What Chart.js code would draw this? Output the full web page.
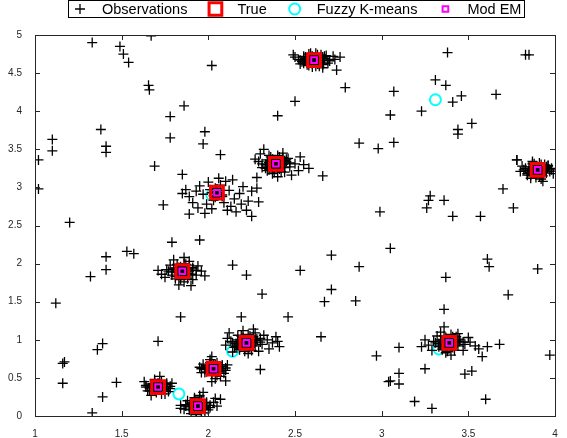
<!DOCTYPE html>
<html>
<head>
<meta charset="utf-8">
<script src="https://cdn.jsdelivr.net/npm/chart.js@4"></script>
<style>
  html, body { margin: 0; padding: 0; background: #fff; }
  #wrap { width: 567px; height: 438px; }
</style>
</head>
<body>
<div id="wrap"><canvas id="chart"></canvas></div>
<script>
// tick values
const xTicks = [1, 1.5, 2, 2.5, 3, 3.5, 4];
const yTicks = [0, 0.5, 1, 1.5, 2, 2.5, 3, 3.5, 4, 4.5, 5];

// scattered observations
const outliers = [
  [1.33,4.90],[1.49,4.85],[1.51,4.75],[1.54,4.64],[1.67,4.99],[1.655,4.34],[1.66,4.28],
  [1.38,3.76],[1.41,3.54],[1.41,3.46],[1.10,3.63],[1.10,3.48],[1.02,3.36],[1.78,3.93],
  [1.78,3.65],[1.86,4.07],[1.69,3.28],[2.02,4.60],[1.98,3.73],[1.97,3.57],[2.07,3.43],
  [1.85,3.17],[1.74,2.77],[1.89,2.65],[1.79,2.28],[1.95,2.31],[1.57,2.13],[1.53,2.16],
  [2.14,1.98],[2.22,1.85],[2.53,1.91],[2.66,3.15],[2.29,2.81],[2.28,2.99],[2.25,2.62],
  [3.38,4.77],[3.31,4.41],[3.37,4.34],[2.79,4.31],[3.07,4.26],[3.41,4.12],[3.46,4.20],
  [3.66,4.22],[2.50,4.13],[2.40,3.94],[3.05,3.95],[3.23,4.00],[3.52,3.84],[3.44,3.76],
  [3.44,3.70],[2.87,3.58],[2.98,3.51],[3.07,3.59],[3.83,4.74],[3.85,4.74],[3.78,3.36],
  [3.70,2.98],[3.76,2.73],[3.57,2.62],[3.41,2.62],[3.36,2.83],[3.28,2.89],[3.27,2.83],
  [3.26,2.73],[2.99,2.68],[2.71,2.11],[2.87,1.96],[3.05,2.20],[2.71,1.66],[2.67,1.50],
  [2.85,1.51],[3.37,1.82],[3.61,2.06],[3.62,1.96],[3.90,1.93],[3.73,1.59],[3.36,1.40],
  [2.31,1.60],[2.46,1.30],[2.65,1.04],[2.97,0.79],[3.04,0.45],[2.41,0.91],[2.30,0.61],
  [2.19,1.30],[3.10,0.90],[3.25,0.62],[3.10,0.56],[3.05,0.46],[3.10,0.42],[3.19,0.19],
  [3.29,0.10],[3.60,0.22],[3.48,0.55],[3.52,0.59],[3.68,0.94],[3.61,0.91],[3.58,0.78],
  [3.97,0.80],[3.36,1.17],[1.02,2.98],[1.20,2.54],[1.41,2.09],[1.41,1.92],[1.32,1.83],
  [1.12,1.48],[1.39,0.95],[1.36,0.87],[1.17,0.71],[1.16,0.69],[1.16,0.43],[1.47,0.44],
  [1.39,0.25],[1.33,0.04],[1.84,1.30],[1.71,0.98],[2.02,0.45],[2.10,0.46],[2.04,0.23],
  [1.84,0.10]
];

// dense clusters around each true centre
const cluster1 = [
  [2.61,4.67],[2.58,4.70],[2.64,4.65],[2.55,4.72],[2.67,4.69],[2.60,4.62],[2.63,4.74],[2.57,4.64],
  [2.66,4.61],[2.52,4.68],[2.70,4.66],[2.59,4.76],[2.62,4.59],[2.54,4.65],[2.68,4.73],[2.50,4.71],
  [2.73,4.68],[2.56,4.69],[2.65,4.70],[2.61,4.64],[2.49,4.74],[2.74,4.54],[2.72,4.72],[2.58,4.60],
  [2.63,4.68],[2.53,4.62],[2.69,4.63],[2.60,4.72],[2.66,4.57],[2.76,4.71],
  [2.60,4.68],[2.62,4.66],[2.59,4.65],[2.63,4.69],[2.61,4.71],[2.58,4.67],[2.64,4.64],[2.60,4.63],
  [2.62,4.70],[2.57,4.69],[2.65,4.67],[2.61,4.66],[2.59,4.72],[2.63,4.62],[2.56,4.66],[2.66,4.71],
  [2.56,4.71],[2.66,4.63],[2.55,4.63],[2.67,4.72],[2.58,4.75],[2.64,4.59],[2.53,4.67],[2.69,4.67],
  [2.60,4.58],[2.62,4.76],[2.57,4.61],[2.65,4.74]
];
const cluster2 = [
  [3.90,3.23],[3.87,3.27],[3.93,3.20],[3.85,3.22],[3.95,3.26],[3.89,3.17],[3.92,3.30],[3.83,3.25],
  [3.97,3.21],[3.88,3.31],[3.91,3.14],[3.86,3.19],[3.94,3.24],[3.81,3.28],[3.99,3.18],[3.89,3.26],
  [3.84,3.16],[3.96,3.29],[3.92,3.11],[3.80,3.21],[3.98,3.23],[3.87,3.34],[3.78,3.36],[3.93,3.08],
  [3.86,3.12],[3.91,3.22],
  [3.89,3.24],[3.91,3.22],[3.88,3.21],[3.92,3.25],[3.90,3.27],[3.87,3.23],[3.93,3.19],[3.89,3.19],
  [3.91,3.26],[3.86,3.25],[3.94,3.22],[3.90,3.21],[3.88,3.28],[3.92,3.17],[3.85,3.20],[3.95,3.27],
  [3.85,3.27],[3.95,3.19],[3.84,3.18],[3.96,3.28],[3.87,3.31],[3.93,3.15],[3.82,3.23],[3.98,3.25],
  [3.89,3.13],[3.91,3.32],[3.86,3.16],[3.94,3.30]
];
const cluster3 = [
  [2.39,3.31],[2.36,3.35],[2.42,3.28],[2.33,3.30],[2.45,3.34],[2.38,3.24],[2.41,3.40],[2.31,3.26],
  [2.47,3.27],[2.35,3.42],[2.44,3.20],[2.29,3.34],[2.50,3.31],[2.37,3.18],[2.43,3.45],[2.27,3.37],
  [2.52,3.22],[2.34,3.22],[2.46,3.38],[2.40,3.14],[2.30,3.44],[2.55,3.30],[2.48,3.16],[2.32,3.50],
  [2.58,3.25],[2.40,3.33],[2.36,3.28],[2.44,3.31],[2.28,3.13],[2.53,3.40],
  [2.38,3.32],[2.40,3.30],[2.37,3.28],[2.41,3.34],[2.39,3.36],[2.36,3.31],[2.42,3.26],[2.38,3.26],
  [2.40,3.35],[2.35,3.33],[2.43,3.30],[2.39,3.29],[2.37,3.37],[2.41,3.24],[2.34,3.28],[2.44,3.35],
  [2.34,3.36],[2.44,3.26],[2.33,3.25],[2.45,3.37],[2.36,3.40],[2.42,3.21],[2.31,3.31],[2.47,3.32],
  [2.38,3.20],[2.40,3.42],[2.35,3.23],[2.43,3.39]
];
const cluster4 = [
  [2.05,2.93],[2.01,2.97],[2.08,2.88],[1.97,2.91],[2.12,2.96],[2.03,2.83],[2.07,3.03],[1.93,2.95],
  [2.15,2.85],[1.99,2.78],[2.10,3.08],[1.89,2.88],[2.18,2.92],[2.02,2.72],[2.13,2.75],[1.95,3.02],
  [2.20,3.01],[1.91,2.80],[2.06,3.12],[2.23,2.82],[1.87,2.97],[2.16,2.68],[1.98,2.66],[2.09,2.80],
  [2.25,2.95],[1.85,2.92],[2.11,2.70],[2.00,3.07],[2.19,2.78],[1.94,2.73],[2.14,3.10],[2.04,2.99],
  [2.22,2.70],
  [2.04,2.94],[2.06,2.91],[2.03,2.89],[2.07,2.96],[2.05,2.98],[2.02,2.93],[2.08,2.90],[2.04,2.87]
];
const cluster5 = [
  [1.85,1.90],[1.82,1.94],[1.88,1.87],[1.79,1.89],[1.91,1.93],[1.84,1.83],[1.87,1.99],[1.76,1.92],
  [1.93,1.85],[1.81,1.80],[1.89,2.03],[1.73,1.86],[1.96,1.90],[1.86,1.76],[1.78,1.98],[1.94,1.97],
  [1.80,2.05],[1.91,1.79],[1.71,1.91],[1.98,1.84],[1.83,1.72],[1.88,1.93],[1.84,1.96],[1.75,1.82],
  [1.90,1.71],[1.86,2.08],
  [1.84,1.91],[1.86,1.89],[1.83,1.88],[1.87,1.92],[1.85,1.94],[1.82,1.90],[1.88,1.86],[1.84,1.86],
  [1.86,1.93],[1.81,1.92],[1.89,1.90],[1.85,1.88],[1.83,1.95],[1.87,1.85],
  [1.80,1.94],[1.90,1.86],[1.79,1.85],[1.91,1.95],[1.82,1.99],[1.88,1.80],[1.77,1.90],[1.93,1.91],
  [1.84,1.79],[1.86,2.00],[1.81,1.83],[1.89,1.98]
];
const cluster6 = [
  [2.22,0.96],[2.19,1.00],[2.25,0.93],[2.16,0.95],[2.28,0.99],[2.21,0.89],[2.24,1.05],[2.13,0.98],
  [2.31,0.94],[2.18,0.87],[2.27,1.09],[2.11,1.02],[2.34,1.00],[2.20,1.12],[2.29,0.85],[2.15,0.90],
  [2.37,0.96],[2.23,0.82],[2.10,0.93],[2.32,1.06],[2.17,1.06],[2.40,0.98],[2.26,1.14],[2.14,0.84],
  [2.35,0.88],[2.22,0.99],[2.19,0.93],[2.30,1.02],[2.12,1.09],[2.39,1.04],
  [2.21,0.97],[2.23,0.95],[2.20,0.94],[2.24,0.98],[2.22,1.01],[2.19,0.96],[2.25,0.92],[2.21,0.91],
  [2.23,1.00],[2.18,0.98],[2.26,0.96],[2.22,0.94],[2.20,1.03],[2.24,0.90],[2.17,0.93],[2.27,1.00],
  [2.17,1.00],[2.27,0.92],[2.16,0.91],[2.28,1.01],[2.19,1.05],[2.25,0.86],[2.14,0.96],[2.30,0.97],
  [2.21,0.85],[2.23,1.07],[2.18,0.89],[2.26,1.04]
];
const cluster7 = [
  [2.03,0.62],[2.00,0.66],[2.06,0.59],[1.98,0.61],[2.08,0.65],[2.02,0.55],[2.05,0.70],[1.96,0.57],
  [2.10,0.60],[2.01,0.74],[2.07,0.52],[1.97,0.68],[2.11,0.67],[2.04,0.49],[1.99,0.58],[2.06,0.64],
  [2.02,0.78],[2.09,0.56],[1.95,0.64],[2.04,0.68],
  [2.02,0.63],[2.04,0.61],[2.01,0.60],[2.05,0.64],[2.03,0.67],[2.00,0.62],[2.06,0.58],[2.02,0.57],
  [2.04,0.66],[1.99,0.64],[2.07,0.62],[2.03,0.60],
  [1.99,0.66],[2.07,0.58],[1.98,0.57],[2.08,0.67],[2.01,0.70],[2.05,0.53],[1.96,0.62],[2.10,0.63]
];
const cluster8 = [
  [1.71,0.38],[1.68,0.42],[1.74,0.35],[1.66,0.37],[1.76,0.41],[1.70,0.31],[1.73,0.46],[1.64,0.40],
  [1.78,0.36],[1.69,0.48],[1.75,0.29],[1.65,0.33],[1.79,0.43],[1.72,0.52],[1.67,0.27],[1.71,0.41],
  [1.74,0.39],[1.63,0.45],[1.77,0.32],[1.70,0.35],
  [1.70,0.39],[1.72,0.37],[1.69,0.36],[1.73,0.40],[1.71,0.43],[1.68,0.38],[1.74,0.34],[1.70,0.33],
  [1.72,0.42],[1.67,0.40],[1.75,0.38],[1.71,0.36],
  [1.67,0.42],[1.75,0.34],[1.66,0.33],[1.76,0.43],[1.69,0.46],[1.73,0.29],[1.64,0.38],[1.78,0.39]
];
const cluster9 = [
  [1.94,0.13],[1.91,0.17],[1.97,0.10],[1.89,0.12],[1.99,0.16],[1.93,0.06],[1.96,0.21],[1.87,0.15],
  [2.01,0.11],[1.92,0.24],[1.98,0.04],[1.86,0.09],[2.03,0.18],[1.95,0.27],[1.90,0.03],[2.05,0.13],
  [1.88,0.20],[1.94,0.16],[2.00,0.08],[1.84,0.14],[1.97,0.31],[2.07,0.22],
  [1.93,0.14],[1.95,0.12],[1.92,0.11],[1.96,0.15],[1.94,0.18],[1.91,0.13],[1.97,0.09],[1.93,0.08],
  [1.95,0.17],[1.90,0.15],[1.98,0.13],[1.94,0.11],[1.92,0.19],[1.96,0.07],
  [1.90,0.17],[1.98,0.09],[1.89,0.08],[1.99,0.18],[1.92,0.22],[1.96,0.04],[1.87,0.13],[2.01,0.14],
  [1.93,0.02],[1.95,0.25]
];
const cluster10 = [
  [3.39,0.96],[3.36,1.00],[3.42,0.93],[3.33,0.95],[3.45,0.98],[3.38,0.89],[3.41,1.04],[3.30,0.98],
  [3.48,0.94],[3.35,0.87],[3.44,1.08],[3.27,0.93],[3.51,0.97],[3.37,0.83],[3.32,1.05],[3.47,0.86],
  [3.25,1.00],[3.54,0.92],[3.40,0.80],[3.29,0.86],[3.50,1.03],[3.23,0.91],[3.43,0.99],[3.34,1.10],
  [3.56,0.88],[3.38,0.97],
  [3.38,0.97],[3.40,0.95],[3.37,0.94],[3.41,0.98],[3.39,1.01],[3.36,0.96],[3.42,0.92],[3.38,0.91],
  [3.40,1.00],[3.35,0.98],[3.43,0.96],[3.39,0.94],[3.37,1.03],[3.41,0.90],[3.34,0.93],[3.44,1.00],
  [3.34,1.00],[3.44,0.92],[3.33,0.91],[3.45,1.01],[3.36,1.05],[3.42,0.86],[3.31,0.96],[3.47,0.97],
  [3.38,0.85],[3.40,1.07],[3.35,0.89],[3.43,1.04]
];

// estimated centres
const trueCenters = [
  [2.61,4.67],[3.90,3.23],[2.39,3.31],[2.05,2.93],[1.85,1.90],
  [2.22,0.96],[2.03,0.62],[1.71,0.38],[1.94,0.13],[3.39,0.96]
];
const fuzzyCenters = [
  [3.31,4.15],[1.83,0.29],[2.14,0.85],[2.61,4.67],[3.90,3.23],
  [2.39,3.31],[2.02,2.90],[1.85,1.90],[3.33,0.88]
];
const modEmCenters = [
  [2.61,4.67],[3.90,3.23],[2.39,3.31],[2.05,2.93],[1.85,1.90],
  [2.22,0.96],[2.03,0.62],[1.71,0.38],[1.94,0.13],[3.39,0.96]
];

const observations = outliers.concat(cluster1, cluster2, cluster3, cluster4, cluster5,
  cluster6, cluster7, cluster8, cluster9, cluster10);

const toPts = arr => arr.map(p => ({ x: p[0], y: p[1] }));
const axisColor = '#262626';
const fontFamily = '"Liberation Sans", Arial, Helvetica, sans-serif';

// box round the axes + inward ticks on all four sides (matlab look)
const boxPlugin = {
  id: 'boxPlugin',
  afterDatasetsDraw(chart) {
    const { ctx, chartArea: a, scales } = chart;
    ctx.save();
    ctx.strokeStyle = axisColor;
    ctx.lineWidth = 1;
    ctx.strokeRect(Math.round(a.left) + 0.5, Math.round(a.top) + 0.5,
      Math.round(a.right - a.left), Math.round(a.bottom - a.top));
    ctx.beginPath();
    xTicks.forEach(v => {
      const px = Math.round(scales.x.getPixelForValue(v)) + 0.5;
      ctx.moveTo(px, a.bottom); ctx.lineTo(px, a.bottom - 5);
      ctx.moveTo(px, a.top); ctx.lineTo(px, a.top + 5);
    });
    yTicks.forEach(v => {
      const py = Math.round(scales.y.getPixelForValue(v)) + 0.5;
      ctx.moveTo(a.left, py); ctx.lineTo(a.left + 5, py);
      ctx.moveTo(a.right, py); ctx.lineTo(a.right - 5, py);
    });
    ctx.stroke();
    ctx.restore();
  }
};

// legend in a bordered box above the axes
const legendBox = {
  id: 'legendBox',
  afterDraw(chart) {
    const { ctx } = chart;
    const left = 68, top = 0, height = 18;
    ctx.save();
    ctx.font = '14.5px ' + fontFamily;
    ctx.textBaseline = 'middle';
    let x = left + 12;
    let textEnd = x;
    const cy = top + height / 2;
    chart.data.datasets.forEach(ds => {
      ctx.save();
      ctx.strokeStyle = ds.borderColor;
      ctx.fillStyle = ds.backgroundColor;
      ctx.lineWidth = ds.borderWidth;
      Chart.helpers.drawPoint(ctx, { pointStyle: ds.pointStyle, radius: ds.pointRadius, borderWidth: ds.borderWidth }, x, cy);
      ctx.restore();
      const tx = x + 22;
      ctx.fillStyle = '#000';
      ctx.fillText(ds.label, tx, cy + 1);
      textEnd = tx + ctx.measureText(ds.label).width;
      x = textEnd + 28;
    });
    ctx.strokeStyle = '#000';
    ctx.lineWidth = 1;
    ctx.strokeRect(left + 0.5, top + 0.5, Math.round(textEnd + 3 - left), height - 1);
    ctx.restore();
  }
};

new Chart(document.getElementById('chart').getContext('2d'), {
  type: 'scatter',
  data: {
    datasets: [
      {
        label: 'Observations',
        data: toPts(observations),
        pointStyle: 'cross',
        pointRadius: 5,
        borderColor: '#000',
        backgroundColor: '#000',
        borderWidth: 1.3,
        order: 2
      },
      {
        label: 'True',
        data: toPts(trueCenters),
        pointStyle: 'rect',
        pointRadius: 9,
        borderColor: '#ff0000',
        backgroundColor: 'rgba(0,0,0,0)',
        borderWidth: 3,
        order: 1
      },
      {
        label: 'Fuzzy K-means',
        data: toPts(fuzzyCenters),
        pointStyle: 'circle',
        pointRadius: 5.5,
        borderColor: '#00ffff',
        backgroundColor: 'rgba(0,0,0,0)',
        borderWidth: 2,
        order: 3
      },
      {
        label: 'Mod EM',
        data: toPts(modEmCenters),
        pointStyle: 'rect',
        pointRadius: 4,
        borderColor: '#ff00ff',
        backgroundColor: 'rgba(0,0,0,0)',
        borderWidth: 2,
        order: 0
      }
    ]
  },
  options: {
    responsive: true,
    maintainAspectRatio: false,
    animation: false,
    events: [],
    layout: { padding: { top: 35, right: 10, left: 0, bottom: 0 } },
    plugins: {
      legend: { display: false },
      tooltip: { enabled: false }
    },
    scales: {
      x: {
        type: 'linear',
        min: 1,
        max: 4,
        afterBuildTicks: s => { s.ticks = xTicks.map(v => ({ value: v })); },
        afterFit: s => { s.height = 22; },
        grid: { display: false },
        border: { display: false },
        ticks: { color: axisColor, font: { size: 10, family: fontFamily }, padding: 4, maxRotation: 0,
          callback: v => String(v) }
      },
      y: {
        type: 'linear',
        min: 0,
        max: 5,
        afterBuildTicks: s => { s.ticks = yTicks.map(v => ({ value: v })); },
        afterFit: s => { s.width = 35; },
        grid: { display: false },
        border: { display: false },
        ticks: { color: axisColor, font: { size: 10, family: fontFamily }, padding: 5,
          callback: v => String(v) }
      }
    }
  },
  plugins: [boxPlugin, legendBox]
});
</script>
</body>
</html>
